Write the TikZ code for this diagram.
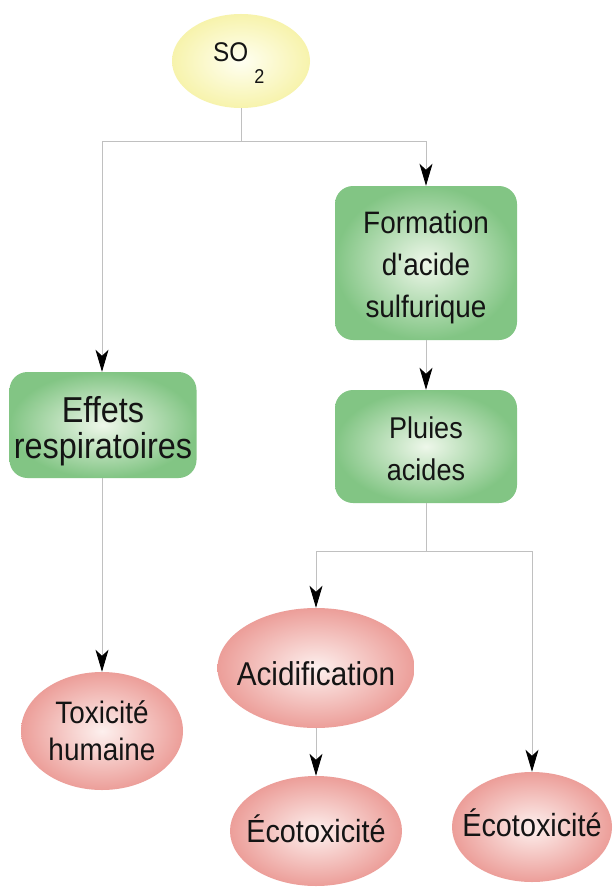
\documentclass[tikz,border=0pt]{standalone}
\usepackage{fontspec}
\setmainfont{Liberation Sans}[FakeStretch=0.9]
\usetikzlibrary{shapes.geometric,arrows.meta}
\definecolor{yin}{HTML}{FFFFF2}
\definecolor{yout}{HTML}{F7F3AC}
\definecolor{gin}{HTML}{EEF7EA}
\definecolor{gout}{HTML}{82C584}
\definecolor{pin}{HTML}{FDF0EE}
\definecolor{pout}{HTML}{EC9E99}
\definecolor{lgray}{HTML}{C0C0C0}
\definecolor{txt}{HTML}{141414}
\newcommand{\tbox}[2]{\makebox[0pt]{\raisebox{#1}[0pt][0pt]{\begin{tabular}[t]{@{}c@{}}#2\end{tabular}}}}
\tikzset{
  gbox/.style={rectangle, rounded corners=18pt, inner color=gin, outer color=gout, text=txt, align=center, inner sep=0pt},
  pell/.style={ellipse, inner color=pin, outer color=pout, text=txt, inner sep=0pt},
  yell/.style={ellipse, inner color=yin, outer color=yout, inner sep=0pt},
  conn/.style={draw=lgray, line width=0.9pt},
  arr/.style={conn, -{Stealth[black, length=22pt, width=13pt, inset=6pt]}},
}
\begin{document}
\begin{tikzpicture}[x=1pt, y=-1pt]
\useasboundingbox (0,0) rectangle (613,888);
\fill[white] (0,0) rectangle (613,888);
% nodes
\node[yell, minimum width=138pt, minimum height=94pt] (so2) at (241,61) {};
\node[anchor=base west, text=txt, font=\fontsize{27}{30}\selectfont, inner sep=0pt] (so2t) at (213,62) {SO\hspace{6pt}\raisebox{-22pt}[0pt][0pt]{\fontsize{20}{20}\selectfont 2}};
\node[gbox, minimum width=182pt, minimum height=154pt, font=\fontsize{31}{42}\selectfont] (formation) at (426,263) {\tbox{30pt}{Formation\\d\textquotesingle acide\\sulfurique}};
\node[gbox, minimum width=182pt, minimum height=113pt, font=\fontsize{30}{42}\selectfont] (pluies) at (426,446.5) {\tbox{8.5pt}{Pluies\\acides}};
\node[gbox, minimum width=187pt, minimum height=106pt, font=\fontsize{36}{36}\selectfont] (effets) at (103,425) {\tbox{3pt}{Effets\\respiratoires}};
\node[pell, minimum width=162pt, minimum height=118pt, font=\fontsize{31}{37}\selectfont] (tox) at (102,731) {\tbox{8pt}{Toxicité\\humaine}};
\node[pell, minimum width=197pt, minimum height=120pt, font=\fontsize{33}{37}\selectfont] (acid) at (316,668) {\tbox{-17pt}{Acidification}};
\node[pell, minimum width=172pt, minimum height=110pt, font=\fontsize{32}{36}\selectfont] (eco1) at (316,831) {\tbox{-11pt}{Écotoxicité}};
\node[pell, minimum width=160pt, minimum height=110pt, font=\fontsize{32}{36}\selectfont] (eco2) at (532,827) {\tbox{-9pt}{Écotoxicité}};
% junctions
\coordinate (j1) at (241,141);
\coordinate (j1l) at (102,141);
\coordinate (j1r) at (426,141);
\coordinate (j2) at (426,551);
\coordinate (j2l) at (316,551);
\coordinate (j2r) at (532,551);
% connectors
\draw[conn] (so2.south) -- (j1);
\draw[conn] (j1l) -- (j1r);
\draw[arr] (j1l) -- (j1l |- effets.north);
\draw[arr] (j1r) -- (formation.north);
\draw[arr] (formation.south) -- (pluies.north);
\draw[arr] (effets.south -| tox.north) -- (tox.north);
\draw[conn] (pluies.south) -- (j2);
\draw[conn] (j2l) -- (j2r);
\draw[arr] (j2l) -- (acid.north);
\draw[arr] (j2r) -- (eco2.north);
\draw[arr] (acid.south) -- (eco1.north);
\end{tikzpicture}
\end{document}
